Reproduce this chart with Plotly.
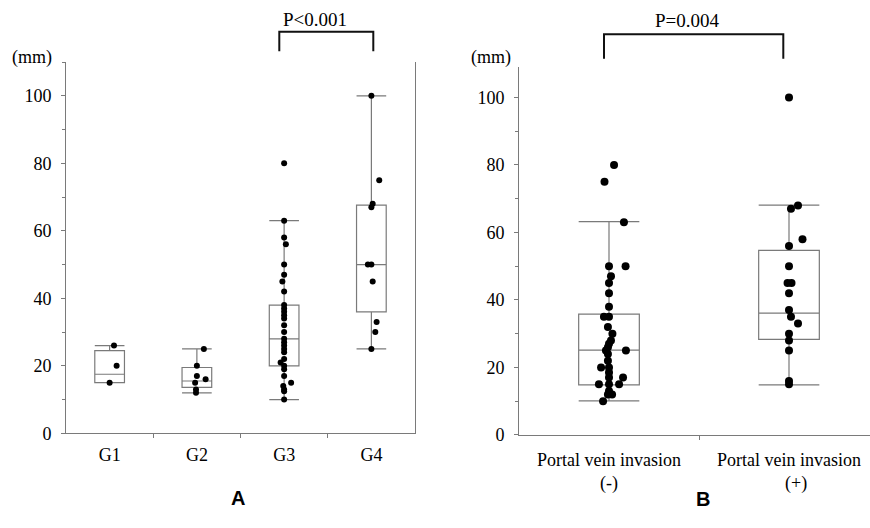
import plotly.graph_objects as go

# ---- Panel A: tumour size by group ----
groups_a = ["G1", "G2", "G3", "G4"]
a_q1 = [15.0, 13.6, 20.0, 36.0]
a_median = [17.5, 15.5, 28.0, 50.0]
a_q3 = [24.5, 19.5, 38.0, 67.6]
a_lower = [15.0, 12.0, 10.0, 25.0]
a_upper = [26.0, 25.0, 63.0, 100.0]

g1_vals = [26, 20, 15]
g1_jit = [0.05, 0.08, 0.0]
g2_vals = [25, 20, 17, 16, 15, 13, 12]
g2_jit = [0.08, 0.0, 0.0, 0.1, -0.02, -0.01, -0.01]
g3_vals = [80, 63, 58, 56, 50, 47, 45, 42, 38, 37, 36, 35, 34, 32, 30,
           28, 27, 26, 25, 24, 22, 21, 20, 19, 17, 15, 14, 13, 12.5, 10]
g3_jit = [0.0, 0.0, 0.0, 0.02, 0.0, 0.0, -0.02, 0.0, 0.0, 0.0, 0.0, 0.0, 0.0, 0.0, 0.0,
          0.0, 0.0, 0.0, 0.0, 0.0, 0.0, -0.04, 0.0, 0.0, 0.0, 0.08, -0.01, 0.0, 0.0, 0.0]
g4_vals = [100, 75, 68, 67, 50, 50, 45, 33, 30, 25]
g4_jit = [0.0, 0.09, 0.015, 0.0, -0.04, 0.0, 0.015, 0.06, 0.045, 0.0]

# ---- Panel B: portal vein invasion ----
groups_b = ["Portal vein invasion", "Portal vein invasion"]
signs_b = ["(-)", "(+)"]
b_q1 = [14.8, 28.3]
b_median = [25.1, 36.1]
b_q3 = [35.8, 54.7]
b_lower = [10.1, 14.8]
b_upper = [63.2, 68.1]

neg_vals = [80, 75, 63, 50, 50, 47, 45, 42, 38, 35, 35, 32, 30, 28, 27, 26,
            25, 25, 24, 22, 20, 20, 18.5, 17, 17, 15, 15, 15, 13, 12, 12, 10]
neg_jit = [0.028, -0.025, 0.083, 0.0, 0.092, 0.011, 0.0, 0.0, 0.0, -0.028, 0.0, -0.006,
           0.019, 0.011, 0.0, -0.006, -0.017, 0.094, -0.006, -0.006, -0.044, 0.0, 0.0,
           0.0, 0.078, -0.056, 0.056, 0.0, 0.0, -0.006, 0.017, -0.033]
pos_vals = [100, 68, 67, 58, 56, 50, 45, 45, 42, 37, 35, 33, 30, 28, 25, 16, 15]
pos_jit = [0.0, 0.05, 0.011, 0.075, 0.0, 0.0, -0.008, 0.014, 0.0, 0.0, 0.011, 0.05,
           0.0, 0.0, 0.0, 0.0, 0.0]

p_label_a = "P<0.001"
p_label_b = "P=0.004"

W, H = 870, 528
SERIF = "Liberation Serif"
LINE = "#7a7a7a"


def px(x, y):
    """Pixel position -> paper coordinates."""
    return x / W, 1 - y / H


fig = go.Figure()

box_style = dict(
    line=dict(color=LINE, width=1.2),
    fillcolor="rgba(255,255,255,0)",
    whiskerwidth=1,
    boxpoints=False,
    showlegend=False,
    hoverinfo="skip",
)

fig.add_trace(go.Box(
    x=list(range(len(groups_a))), q1=a_q1, median=a_median, q3=a_q3,
    lowerfence=a_lower, upperfence=a_upper, width=0.34,
    xaxis="x", yaxis="y", **box_style))

for i, (vals, jit) in enumerate([(g1_vals, g1_jit), (g2_vals, g2_jit),
                                 (g3_vals, g3_jit), (g4_vals, g4_jit)]):
    fig.add_trace(go.Scatter(
        x=[i + j for j in jit], y=vals, mode="markers",
        marker=dict(color="black", size=6),
        xaxis="x", yaxis="y", showlegend=False, hoverinfo="skip"))

fig.add_trace(go.Box(
    x=list(range(len(groups_b))), q1=b_q1, median=b_median, q3=b_q3,
    lowerfence=b_lower, upperfence=b_upper, width=0.337,
    xaxis="x2", yaxis="y2", **box_style))

for i, (vals, jit) in enumerate([(neg_vals, neg_jit), (pos_vals, pos_jit)]):
    fig.add_trace(go.Scatter(
        x=[i + j for j in jit], y=vals, mode="markers",
        marker=dict(color="black", size=8),
        xaxis="x2", yaxis="y2", showlegend=False, hoverinfo="skip"))

tick_font = dict(family=SERIF, size=18, color="black")

common_y = dict(
    range=[0, 110], tickvals=[0, 20, 40, 60, 80, 100],
    showline=True, linecolor=LINE, linewidth=1,
    ticks="outside", ticklen=4, tickcolor=LINE,
    minor=dict(dtick=10, tick0=0, ticks="outside", ticklen=3, tickcolor=LINE),
    showgrid=False, zeroline=False, tickfont=tick_font, ticklabelstandoff=6,
)

ax0, ay0 = px(66, 441.7)
ax1, ay1 = px(415, 441.7 - 3.44 * 110)
bx0, by0 = px(519, 443.3)
by1 = 1 - (443.3 - 3.44 * 109) / H

fig.update_layout(
    width=W, height=H,
    margin=dict(l=0, r=0, t=0, b=0),
    paper_bgcolor="white", plot_bgcolor="white",
    font=dict(family=SERIF, size=18, color="black"),
    xaxis=dict(
        domain=[ax0, ax1], range=[-0.5, 3.5],
        tickvals=list(range(len(groups_a))), ticktext=groups_a,
        ticks="", showline=True, linecolor=LINE, linewidth=1,
        minor=dict(tickvals=[0.5, 1.5, 2.5], ticks="outside", ticklen=4, tickcolor=LINE),
        showgrid=False, zeroline=False, tickfont=tick_font, ticklabelstandoff=5,
    ),
    yaxis=dict(domain=[ay0, ay1], anchor="x", mirror=True, **common_y),
    xaxis2=dict(
        domain=[bx0, 1.0], range=[-0.5, -0.5 + 351 / 180], anchor="y2",
        tickvals=list(range(len(groups_b))), ticktext=groups_b,
        ticks="", showline=True, linecolor=LINE, linewidth=1,
        minor=dict(tickvals=[0.5], ticks="outside", ticklen=4, tickcolor=LINE),
        showgrid=False, zeroline=False, tickfont=tick_font, ticklabelstandoff=8,
    ),
    yaxis2=dict(domain=[by0, by1], anchor="x2", **{**common_y, "range": [0, 109]}),
)

# second line of the panel-B category labels
for i, s in enumerate(signs_b):
    fig.add_annotation(x=i + (0.0 if i == 0 else 0.04), xref="x2",
                       y=px(0, 493)[1], yref="paper",
                       text=s, showarrow=False, font=tick_font,
                       xanchor="center", yanchor="middle")

# unit labels
for (x, y) in [(32, 59), (491, 59)]:
    fx, fy = px(x, y)
    fig.add_annotation(x=fx, y=fy, xref="paper", yref="paper", text="(mm)",
                       showarrow=False, font=dict(family=SERIF, size=18, color="black"),
                       xanchor="center", yanchor="middle")

# significance brackets
for (x0, x1, ytop, ybot, label, tx, ty) in [
        (279.3, 373.3, 32.3, 52.3, p_label_a, 315, 20),
        (604, 783.3, 35, 60, p_label_b, 687, 21)]:
    p0 = px(x0, ybot)
    p1 = px(x0, ytop)
    p2 = px(x1, ytop)
    p3 = px(x1, ybot)
    fig.add_shape(type="path", xref="paper", yref="paper",
                  path=f"M {p0[0]} {p0[1]} L {p1[0]} {p1[1]} L {p2[0]} {p2[1]} L {p3[0]} {p3[1]}",
                  line=dict(color="#111111", width=2))
    fx, fy = px(tx, ty)
    fig.add_annotation(x=fx, y=fy, xref="paper", yref="paper", text=label,
                       showarrow=False, font=dict(family=SERIF, size=19, color="black"),
                       xanchor="center", yanchor="middle")

# panel letters
for (x, y, letter) in [(238, 508, "A"), (703, 509, "B")]:
    fx, fy = px(x, y)
    fig.add_annotation(x=fx, y=fy, xref="paper", yref="paper", text=f"<b>{letter}</b>",
                       showarrow=False,
                       font=dict(family="Liberation Sans", size=20, color="black"),
                       xanchor="center", yanchor="middle")

fig.write_html("out.html")
